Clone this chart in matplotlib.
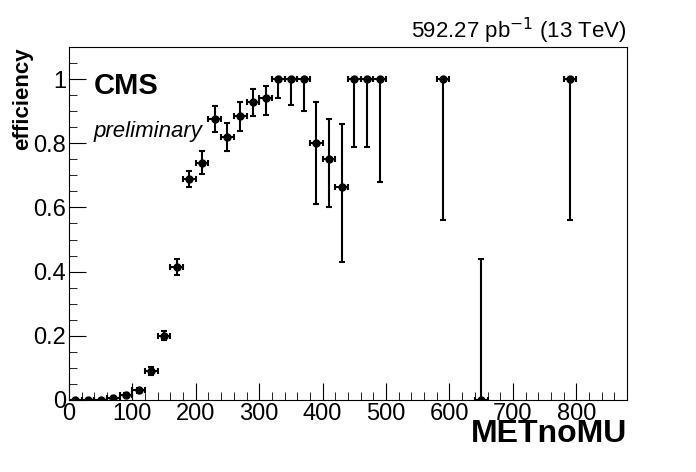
import numpy as np
import matplotlib.pyplot as plt

plt.rcParams['font.family'] = ['Liberation Sans', 'DejaVu Sans']

x = [10, 30, 50, 70, 90, 110, 130, 150, 170, 190, 210, 230, 250, 270, 290, 310,
     330, 350, 370, 390, 410, 430, 450, 470, 490, 590, 650, 790]
eff = [0.0, 0.0, 0.0, 0.005, 0.015, 0.03, 0.09, 0.2, 0.415, 0.69, 0.74, 0.875,
       0.82, 0.885, 0.93, 0.94, 1.0, 1.0, 1.0, 0.8, 0.75, 0.665, 1.0, 1.0, 1.0,
       1.0, 0.0, 1.0]
err_lo = [0.0, 0.0, 0.0, 0.003, 0.006, 0.008, 0.012, 0.015, 0.025, 0.025, 0.035,
          0.04, 0.045, 0.045, 0.045, 0.05, 0.06, 0.08, 0.1, 0.19, 0.15, 0.235,
          0.21, 0.21, 0.32, 0.44, 0.0, 0.44]
err_hi = [0.003, 0.003, 0.003, 0.004, 0.006, 0.008, 0.012, 0.015, 0.025, 0.025,
          0.035, 0.04, 0.045, 0.045, 0.04, 0.04, 0.0, 0.0, 0.0, 0.13, 0.125,
          0.195, 0.0, 0.0, 0.0, 0.0, 0.44, 0.0]
xerr = [10] * len(x)

fig = plt.figure(figsize=(6.96, 4.72), dpi=100)
ax = fig.add_axes([0.099, 0.153, 0.802, 0.747])
ax.errorbar(x, eff, xerr=xerr, yerr=[err_lo, err_hi], fmt='o', color='black',
            markersize=5, capsize=2, elinewidth=1.5, capthick=1.5)
ax.set_xlim(0, 880)
ax.set_ylim(0, 1.1)
ax.set_xticks(range(0, 900, 100))
ax.set_xticklabels([str(v) for v in range(0, 900, 100)])
ax.set_xticks(range(0, 880, 20), minor=True)
ax.set_yticks([0, 0.2, 0.4, 0.6, 0.8, 1.0])
ax.set_yticklabels(['0', '0.2', '0.4', '0.6', '0.8', '1'])
ax.set_yticks(np.arange(0, 1.1, 0.05), minor=True)
ax.tick_params(which='both', direction='in', labelsize=17, pad=2)
ax.tick_params(which='major', length=12)
ax.tick_params(which='minor', length=6)
ax.set_xlabel('METnoMU', fontsize=23, fontweight='bold', loc='right', labelpad=-4)
ax.set_ylabel('efficiency', fontsize=16, fontweight='bold', loc='top', labelpad=0)
ax.text(0.045, 0.93, 'CMS', transform=ax.transAxes, fontsize=21,
        fontweight='bold', va='top')
ax.text(0.045, 0.79, 'preliminary', transform=ax.transAxes, fontsize=16,
        style='italic', va='top')
fig.text(0.901, 0.92, '592.27 pb$^{-1}$ (13 TeV)', fontsize=16, ha='right')
fig.savefig('out.png')
